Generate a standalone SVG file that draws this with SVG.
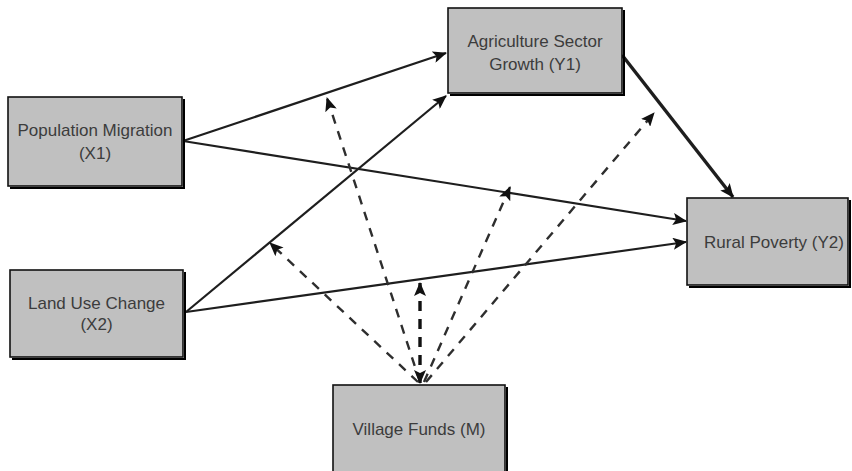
<svg xmlns="http://www.w3.org/2000/svg" width="852" height="471" viewBox="0 0 852 471">
<style>
.box{fill:#c0c0c0;stroke:#111;stroke-width:1.6}
.shadow{fill:none;stroke:#000;stroke-width:2}
.lbl{font-family:"Liberation Sans",Arial,sans-serif;font-size:17px;fill:#3c3c3c;text-anchor:middle}
.solid{fill:none;stroke:#1e1e1e;stroke-width:2.2}
.thick{fill:none;stroke:#1e1e1e;stroke-width:3.4}
.dash{fill:none;stroke:#2e2e2e;stroke-width:2.4;stroke-dasharray:9 8}
.dashb{fill:none;stroke:#111;stroke-width:3.4;stroke-dasharray:10 8}
</style>
<defs>
<marker id="ah" markerUnits="userSpaceOnUse" markerWidth="14" markerHeight="12" viewBox="0 0 14 12" refX="13" refY="6" orient="auto">
<path d="M0,0 L14,6 L0,12 L3,6 Z" fill="#111"/>
</marker>
<marker id="ahs" markerUnits="userSpaceOnUse" markerWidth="14" markerHeight="12" viewBox="0 0 14 12" refX="1" refY="6" orient="auto">
<path d="M14,0 L0,6 L14,12 L11,6 Z" fill="#111"/>
</marker>
</defs>
<g id="connectors">
<path class="solid" d="M183,141 L446,53" marker-end="url(#ah)"/>
<path class="solid" d="M183,141 L686,221" marker-end="url(#ah)"/>
<path class="solid" d="M186,312 L446,96" marker-end="url(#ah)"/>
<path class="solid" d="M186,312 L686,242" marker-end="url(#ah)"/>
<path class="thick" d="M622,55 L733,197" marker-end="url(#ah)"/>
<path class="dash" d="M420,382 L327,98" marker-end="url(#ah)"/>
<path class="dash" d="M418,382 L270,243" marker-end="url(#ah)"/>
<path class="dash" d="M424,382 L510,187" marker-end="url(#ah)"/>
<path class="dash" d="M426,382 L654,113" marker-end="url(#ah)"/>
<path class="dashb" d="M420,383 L420,283" marker-end="url(#ah)" marker-start="url(#ahs)"/>
</g>
<g id="X1">
<path class="shadow" d="M184,99 L184,188 L10,188"/>
<rect class="box" x="8" y="97" width="174" height="89"/>
<text class="lbl" x="95" y="136">Population Migration</text>
<text class="lbl" x="95" y="159">(X1)</text>
</g>
<g id="Y1">
<path class="shadow" d="M624,10 L624,95 L450,95"/>
<rect class="box" x="448" y="8" width="174" height="85"/>
<text class="lbl" x="535" y="47">Agriculture Sector</text>
<text class="lbl" x="535" y="70">Growth (Y1)</text>
</g>
<g id="Y2">
<path class="shadow" d="M850,200 L850,287 L689,287"/>
<rect class="box" x="687" y="198" width="161" height="87"/>
<text class="lbl" x="774" y="248">Rural Poverty (Y2)</text>
</g>
<g id="X2">
<path class="shadow" d="M185,272 L185,359 L12,359"/>
<rect class="box" x="10" y="270" width="173" height="87"/>
<text class="lbl" x="96.5" y="309">Land Use Change</text>
<text class="lbl" x="96.5" y="330">(X2)</text>
</g>
<g id="M">
<path class="shadow" d="M507,387 L507,475"/>
<rect class="box" x="333" y="385" width="172" height="95"/>
<text class="lbl" x="419" y="435">Village Funds (M)</text>
</g>
</svg>
